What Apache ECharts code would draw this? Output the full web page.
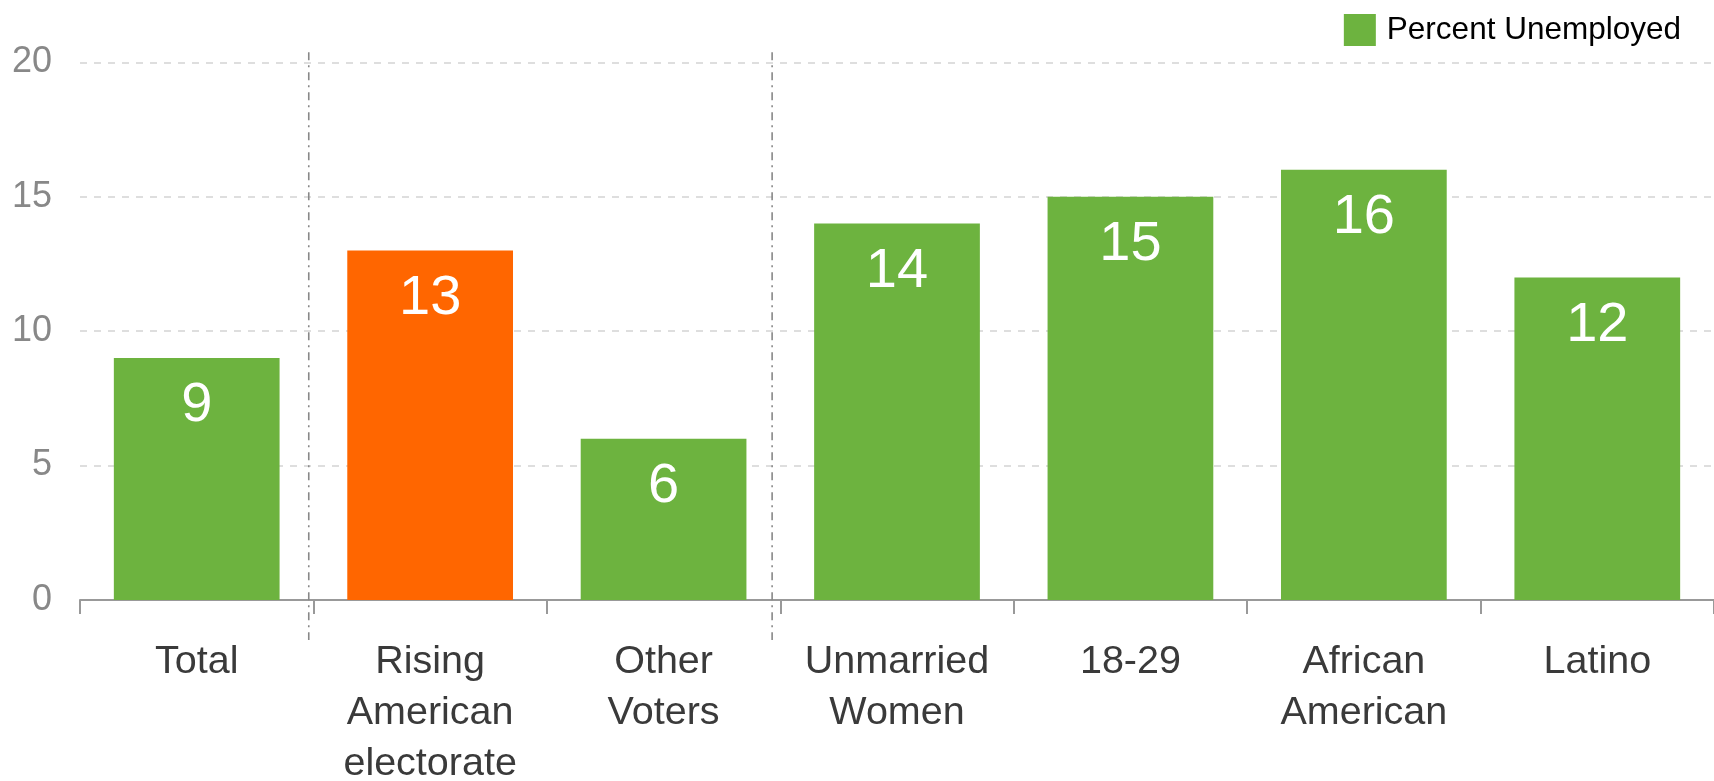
<!DOCTYPE html>
<html>
<head>
<meta charset="utf-8">
<script src="https://cdn.jsdelivr.net/npm/echarts@6/dist/echarts.min.js"></script>
<style>
html,body{margin:0;padding:0;background:#fff;}
#chart{width:1714px;height:781px;}
</style>
</head>
<body>
<div id="chart"></div>
<script>
// ---- data ----
const categories = ['Total', 'Rising\nAmerican\nelectorate', 'Other\nVoters', 'Unmarried\nWomen', '18-29', 'African\nAmerican', 'Latino'];
const values = [9, 13, 6, 14, 15, 16, 12];
const seriesName = 'Percent Unemployed';
const highlightIndex = 1;
const yTicks = [0, 5, 10, 15, 20];
// group separators, in category units (0 = left edge of first category)
const separators = [0.98, 2.965];

const GREEN = '#6db33f';
const ORANGE = '#ff6600';
const FONT = '"Liberation Sans", Arial, sans-serif';

const chart = echarts.init(document.getElementById('chart'));
chart.setOption({
  animation: false,
  grid: { left: 80, right: 0, top: 62.3, bottom: 181, containLabel: false, outerBoundsMode: 'none' },
  legend: {
    right: 28, top: 9,
    icon: 'rect', itemWidth: 32, itemHeight: 32, itemGap: 10,
    textStyle: { fontFamily: FONT, fontSize: 31.5, color: '#000', padding: [0, 0, 0, 6] },
    data: [{ name: seriesName, itemStyle: { color: GREEN } }]
  },
  xAxis: [{
    type: 'category',
    data: categories,
    boundaryGap: true,
    axisLine: { show: true, lineStyle: { color: '#999', width: 2 } },
    axisTick: { show: true, length: 14, lineStyle: { color: '#999', width: 2 } },
    axisLabel: { fontFamily: FONT, fontSize: 39.5, lineHeight: 51, color: '#3a3a3a', margin: 37, interval: 0 },
    splitLine: { show: false }
  }, {
    type: 'value', min: 0, max: categories.length, show: false, gridIndex: 0
  }],
  yAxis: {
    type: 'value', min: yTicks[0], max: yTicks[yTicks.length - 1], interval: 5,
    axisLine: { show: false }, axisTick: { show: false },
    axisLabel: { fontFamily: FONT, fontSize: 36, color: '#888', margin: 28, padding: [6, 0, 0, 0] },
    splitLine: { show: true, lineStyle: { color: '#d4d4d4', width: 1.5, type: [7, 7] } }
  },
  series: [{
    name: seriesName,
    type: 'bar',
    xAxisIndex: 0,
    data: values,
    barCategoryGap: '29%',
    itemStyle: { color: p => p.dataIndex === highlightIndex ? ORANGE : GREEN },
    label: {
      show: true, position: 'insideTop', distance: 20,
      fontFamily: FONT, fontSize: 56, color: '#fff'
    },
    z: 2
  }, {
    name: 'separators',
    type: 'custom',
    xAxisIndex: 1, yAxisIndex: 0,
    clip: false, silent: true,
    data: separators.map(v => [v]),
    renderItem: (params, api) => {
      const x = api.value(0);
      const top = api.coord([x, 20.37]);
      const bot = api.coord([x, -1.49]);
      return {
        type: 'line',
        shape: { x1: top[0], y1: top[1], x2: bot[0], y2: bot[1] },
        style: { stroke: '#888', lineWidth: 1.6, lineDash: [8, 5, 2, 5] }
      };
    },
    z: 3
  }]
});
</script>
</body>
</html>
